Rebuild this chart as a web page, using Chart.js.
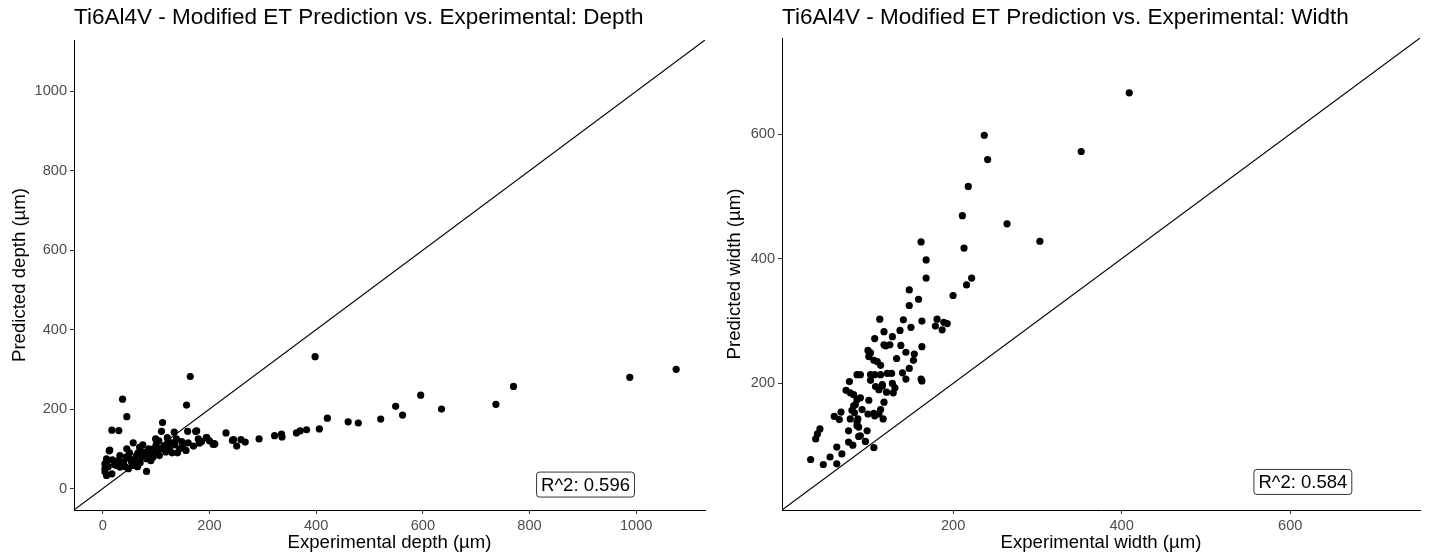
<!DOCTYPE html>
<html>
<head>
<meta charset="utf-8">
<script src="https://cdn.jsdelivr.net/npm/chart.js@4.4.1/dist/chart.umd.min.js"></script>
<style>
  html, body { margin: 0; padding: 0; background: #fff; }
  .row { display: flex; width: 1429px; height: 556px; }
  canvas { display: block; }
</style>
</head>
<body>
<div class="row">
  <canvas id="chartDepth" width="715" height="556"></canvas>
  <canvas id="chartWidth" width="714" height="556"></canvas>
</div>
<script>
// Depth: experimental (x) vs predicted (y), in µm
const depthExperimental = [1075, 988, 770, 737, 635, 596, 562, 549, 521, 479, 460, 421, 406, 398, 382, 370, 363, 336, 322, 335,
  293, 267, 259, 251, 245, 231, 210, 207, 194, 181, 176, 159, 164, 157, 112, 110, 134, 174, 37, 45,
  17, 30, 99, 121, 138, 122, 57, 45, 13, 32, 179, 195, 209, 243, 170, 156, 144, 130, 118, 106,
  94, 82, 69, 76, 63, 51, 39, 32, 57, 48, 26, 7, 4, 7, 17, 82, 4, 12, 7, 4,
  60, 70, 88, 95, 100, 110, 115, 125, 135, 150, 160, 185, 200, 66, 80, 90, 102, 54, 44, 22,
  28, 36, 86, 75, 140, 148, 105, 65, 72, 50, 18, 10, 42, 120, 130, 92];
const depthPredicted = [300, 280, 257, 212, 200, 235, 185, 207, 175, 165, 168, 177, 150, 332, 148, 145, 140, 130, 133, 137,
  125, 117, 123, 107, 123, 140, 112, 111, 128, 114, 145, 144, 282, 210, 166, 144, 142, 144, 225, 181,
  147, 146, 125, 128, 125, 118, 115, 100, 97, 83, 125, 128, 113, 121, 107, 96, 100, 90, 92, 83,
  79, 75, 104, 92, 83, 75, 67, 54, 58, 50, 58, 67, 50, 33, 37, 43, 42, 95, 75, 62,
  70, 65, 90, 100, 110, 100, 108, 98, 110, 105, 115, 118, 120, 90, 85, 70, 92, 66, 80, 60,
  70, 62, 100, 110, 90, 118, 120, 55, 80, 90, 72, 55, 55, 105, 115, 88];

// Width: experimental (x) vs predicted (y), in µm
const widthExperimental = [409, 352, 237, 241, 218, 211, 264, 303, 162, 213, 168, 168, 222, 216, 148, 159, 200, 148, 113, 141,
  163, 181, 189, 193, 179, 187, 150, 137, 118, 128, 107, 125, 120, 138, 163, 99, 102, 118, 100, 110,
  114, 106, 133, 144, 154, 153, 148, 140, 144, 162, 163, 86, 90, 102, 107, 114, 122, 127, 77, 102,
  108, 116, 128, 131, 129, 121, 116, 112, 73, 78, 82, 86, 84, 82, 90, 83, 80, 100, 118, 114,
  107, 92, 87, 88, 86, 59, 65, 67, 78, 76, 86, 99, 106, 112, 117, 98, 90, 88, 96, 42,
  39, 37, 76, 81, 62, 68, 106, 54, 62, 46, 31];
const widthPredicted = [666, 572, 598, 559, 516, 469, 456, 428, 427, 417, 398, 369, 369, 358, 350, 335, 341, 325, 303, 302,
  300, 303, 298, 296, 292, 286, 290, 285, 283, 275, 272, 262, 260, 261, 259, 253, 249, 262, 243, 235,
  229, 237, 240, 250, 247, 237, 224, 217, 207, 207, 204, 214, 214, 214, 214, 214, 216, 216, 203, 205,
  195, 196, 200, 193, 185, 186, 198, 190, 189, 185, 182, 174, 166, 164, 177, 153, 157, 173, 170, 158,
  148, 158, 143, 130, 138, 147, 142, 154, 143, 124, 132, 151, 152, 151, 143, 124, 116, 115, 107, 127,
  119, 111, 106, 101, 98, 87, 97, 82, 71, 70, 78];

const depthTicks = [0, 200, 400, 600, 800, 1000];
const widthTicks = [200, 400, 600];
const depthRange = [-54, 1129];
const widthRange = [-3, 754];
const depthR2 = { text: 'R^2: 0.596', x: 905, y: 10 };
const widthR2 = { text: 'R^2: 0.584', x: 615, y: 42 };

const FONT = '"Liberation Sans", Arial, sans-serif';

// boite "R^2" façon geom_label
const r2Label = {
  id: 'r2Label',
  afterDatasetsDraw(chart, args, opts) {
    const ctx = chart.ctx;
    const px = chart.scales.x.getPixelForValue(opts.x);
    const py = chart.scales.y.getPixelForValue(opts.y);
    ctx.save();
    ctx.font = '18.5px ' + FONT;
    const w = ctx.measureText(opts.text).width;
    const pad = 4.5, h = 18 + 2 * pad - 2;
    ctx.beginPath();
    ctx.roundRect(px - w / 2 - pad, py - h / 2, w + 2 * pad, h, 3);
    ctx.fillStyle = '#fff';
    ctx.fill();
    ctx.lineWidth = 0.8;
    ctx.strokeStyle = '#000';
    ctx.stroke();
    ctx.fillStyle = '#000';
    ctx.textAlign = 'center';
    ctx.textBaseline = 'middle';
    ctx.fillText(opts.text, px, py + 1);
    ctx.restore();
  }
};

function makeChart(id, cfg) {
  const points = cfg.xs.map((x, i) => ({ x: x, y: cfg.ys[i] }));
  const axis = (title, ticks, range, isY) => ({
    type: 'linear',
    min: range[0],
    max: range[1],
    afterBuildTicks: s => { s.ticks = ticks.map(v => ({ value: v })); },
    afterFit: s => { if (isY) s.width = cfg.yWidth; else s.height = 46; },
    grid: { drawOnChartArea: false, drawTicks: true, tickLength: 4, color: '#333', lineWidth: 1 },
    border: { display: true, color: '#000', width: 1 },
    ticks: { color: '#4d4d4d', font: { family: FONT, size: 14.6 }, padding: 3, callback: v => String(v) },
    title: {
      display: true, text: title, color: '#000',
      font: { family: FONT, size: 18.6 },
      padding: isY ? { top: 9, bottom: 0 } : { top: 0, bottom: 2 }
    }
  });
  return new Chart(document.getElementById(id), {
    type: 'scatter',
    data: {
      datasets: [{
        data: points,
        backgroundColor: '#000',
        borderWidth: 0,
        pointRadius: 3.6,
        pointHoverRadius: 3.6
      }, {
        data: [{ x: cfg.range[0], y: cfg.range[0] }, { x: cfg.range[1], y: cfg.range[1] }],
        showLine: true,
        borderColor: '#000',
        borderWidth: 1.1,
        pointRadius: 0
      }]
    },
    options: {
      responsive: false,
      animation: false,
      layout: { padding: { left: 0, right: cfg.padRight, top: 0, bottom: 0 } },
      plugins: {
        legend: { display: false },
        tooltip: { enabled: false },
        title: {
          display: true, text: cfg.title, align: 'start', fullSize: false,
          color: '#000', font: { family: FONT, size: 22.5, weight: 'normal' },
          padding: { top: 4, bottom: cfg.titleBottom }
        },
        r2Label: cfg.r2
      },
      scales: {
        x: axis(cfg.xTitle, cfg.ticks, cfg.range, false),
        y: axis(cfg.yTitle, cfg.ticks, cfg.range, true)
      }
    },
    plugins: [r2Label]
  });
}

makeChart('chartDepth', {
  xs: depthExperimental, ys: depthPredicted, ticks: depthTicks, range: depthRange,
  title: 'Ti6Al4V - Modified ET Prediction vs. Experimental: Depth',
  xTitle: 'Experimental depth (µm)', yTitle: 'Predicted depth (µm)',
  yWidth: 74, padRight: 10, titleBottom: 9, r2: depthR2
});
makeChart('chartWidth', {
  xs: widthExperimental, ys: widthPredicted, ticks: widthTicks, range: widthRange,
  title: 'Ti6Al4V - Modified ET Prediction vs. Experimental: Width',
  xTitle: 'Experimental width (µm)', yTitle: 'Predicted width (µm)',
  yWidth: 67, padRight: 9, titleBottom: 7, r2: widthR2
});
</script>
</body>
</html>
